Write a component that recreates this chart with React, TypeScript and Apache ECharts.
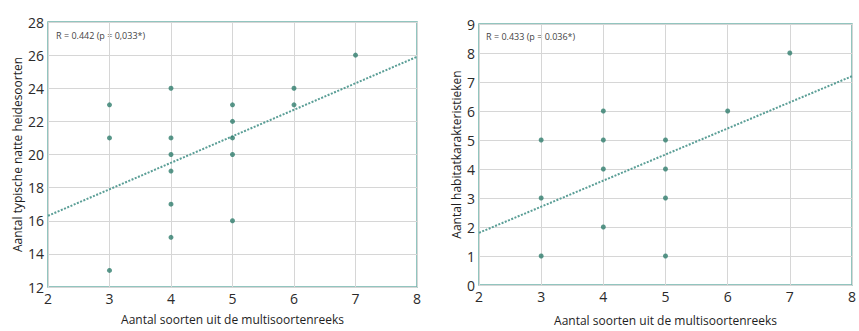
import React, { useEffect, useRef } from "react";
import * as echarts from "echarts";

const leftX = [3, 3, 3, 4, 4, 4, 4, 4, 4, 5, 5, 5, 5, 5, 6, 6, 7];
const leftY = [23, 21, 13, 24, 21, 20, 19, 17, 15, 23, 22, 21, 20, 16, 24, 23, 26];
const leftTrend = [[2, 16.3], [8, 25.9]];
const rightX = [3, 3, 3, 4, 4, 4, 4, 5, 5, 5, 5, 6, 7];
const rightY = [5, 3, 1, 6, 5, 4, 2, 5, 4, 3, 1, 6, 8];
const rightTrend = [[2, 1.8], [8, 7.2]];
const leftLabel = "R = 0.442 (p = 0,033*)";
const rightLabel = "R = 0.433 (p = 0.036*)";
const xTitle = "Aantal soorten uit de multisoortenreeks";
const leftYTitle = "Aantal typische natte heidesoorten";
const rightYTitle = "Aantal habitatkarakteristieken";

const FONT = "'Open Sans', 'Noto Sans', sans-serif";
const TEAL = "#6fb3aa";
const DOT = "#2f7d6d";

export default function App() {
  const ref = useRef<HTMLDivElement>(null);
  useEffect(() => {
    const chart = echarts.init(ref.current!, undefined, { renderer: "svg" });
    const axisLabel = { fontFamily: FONT, fontSize: 14, color: "#2a2a2a", margin: 4 };
    const split = { show: true, lineStyle: { color: "#d6d6d6", width: 1 } };
    const nameStyle = { fontFamily: FONT, fontSize: 12, color: "#1e1e1e" };
    const xAxisBase = (gi: number) => ({
      type: "value",
      gridIndex: gi,
      min: 2,
      max: 8,
      interval: 1,
      axisLine: { show: false },
      axisTick: { show: false },
      axisLabel,
      splitLine: split,
      name: xTitle,
      nameLocation: "middle",
      nameGap: 26,
      nameTextStyle: nameStyle,
    });
    chart.setOption({
      animation: false,
      grid: [
        { left: 48, top: 22, width: 369, height: 265, show: true, borderColor: TEAL, borderWidth: 1.5, backgroundColor: "#fff" },
        { left: 479, top: 24, width: 379, height: 263, show: true, borderColor: TEAL, borderWidth: 1.5, backgroundColor: "#fff" },
      ],
      xAxis: [xAxisBase(0), { ...xAxisBase(1), nameGap: 29 }],
      yAxis: [
        {
          type: "value", gridIndex: 0, min: 12, max: 28, interval: 2,
          axisLine: { show: false }, axisTick: { show: false },
          axisLabel, splitLine: split,
          name: leftYTitle, nameLocation: "middle", nameGap: 25, nameTextStyle: nameStyle,
        },
        {
          type: "value", gridIndex: 1, min: 0, max: 9, interval: 1,
          axisLine: { show: false }, axisTick: { show: false },
          axisLabel, splitLine: split,
          name: rightYTitle, nameLocation: "middle", nameGap: 17, nameTextStyle: nameStyle,
        },
      ],
      series: [
        {
          type: "line", xAxisIndex: 0, yAxisIndex: 0, data: leftTrend, symbol: "none",
          lineStyle: { color: "#5a9e96", width: 2, type: [2, 1.5] }, z: 2,
        },
        {
          type: "scatter", xAxisIndex: 0, yAxisIndex: 0,
          data: leftX.map((x, i) => [x, leftY[i]]), symbolSize: 5,
          itemStyle: { color: DOT }, z: 3,
        },
        {
          type: "line", xAxisIndex: 1, yAxisIndex: 1, data: rightTrend, symbol: "none",
          lineStyle: { color: "#5a9e96", width: 2, type: [2, 1.5] }, z: 2,
        },
        {
          type: "scatter", xAxisIndex: 1, yAxisIndex: 1,
          data: rightX.map((x, i) => [x, rightY[i]]), symbolSize: 5,
          itemStyle: { color: DOT }, z: 3,
        },
      ],
      graphic: [
        { type: "text", left: 56, top: 31, style: { text: leftLabel, font: `9px ${FONT}`, fill: "#444" } },
        { type: "text", left: 486, top: 32, style: { text: rightLabel, font: `9px ${FONT}`, fill: "#444" } },
      ],
    });
    return () => chart.dispose();
  }, []);
  return (
    <div
      ref={ref}
      style={{ position: "fixed", left: 0, top: 0, width: 859, height: 331, background: "#fff" }}
    />
  );
}
